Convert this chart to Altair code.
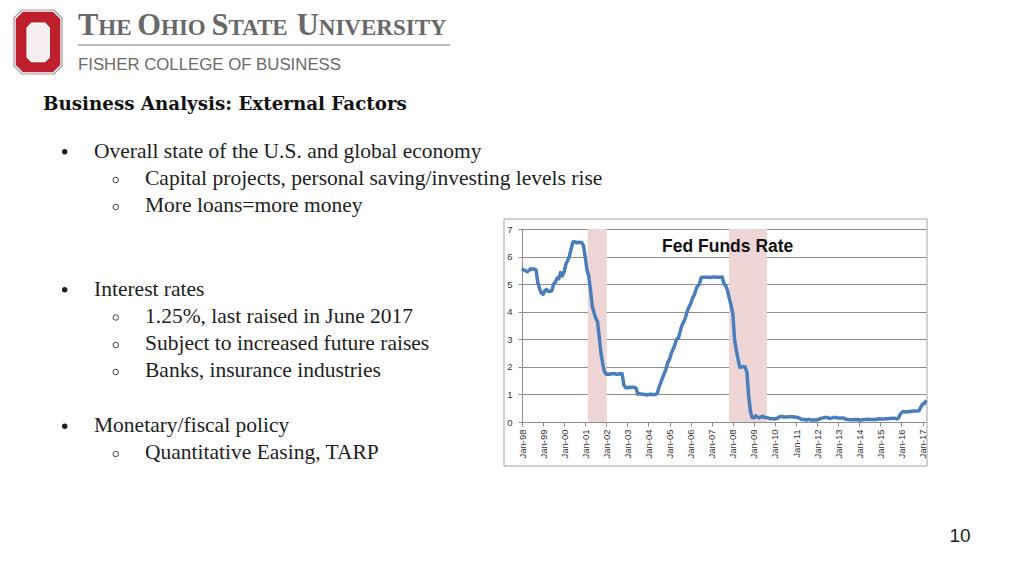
import altair as alt
import pandas as pd

# ---------------- data ----------------
start_month = "1998-01-01"
fed_funds = [
    5.56, 5.51, 5.49, 5.45, 5.49, 5.56, 5.54, 5.55, 5.51, 5.07, 4.83, 4.68,  # 1998
    4.63, 4.76, 4.81, 4.74, 4.74, 4.76, 4.99, 5.07, 5.22, 5.20, 5.42, 5.30,  # 1999
    5.45, 5.73, 5.85, 6.02, 6.27, 6.53, 6.54, 6.50, 6.52, 6.51, 6.51, 6.40,  # 2000
    5.98, 5.49, 5.31, 4.80, 4.21, 3.97, 3.77, 3.65, 3.07, 2.49, 2.09, 1.82,  # 2001
    1.73, 1.74, 1.73, 1.75, 1.75, 1.75, 1.73, 1.74, 1.75, 1.75, 1.34, 1.24,  # 2002
    1.24, 1.26, 1.25, 1.26, 1.26, 1.22, 1.01, 1.03, 1.01, 1.01, 1.00, 0.98,  # 2003
    1.00, 1.01, 1.00, 1.00, 1.00, 1.03, 1.26, 1.43, 1.61, 1.76, 1.93, 2.16,  # 2004
    2.28, 2.50, 2.63, 2.79, 3.00, 3.04, 3.26, 3.50, 3.62, 3.78, 4.00, 4.16,  # 2005
    4.29, 4.49, 4.59, 4.79, 4.94, 4.99, 5.24, 5.25, 5.25, 5.25, 5.25, 5.24,  # 2006
    5.25, 5.26, 5.26, 5.25, 5.25, 5.25, 5.26, 5.02, 4.94, 4.76, 4.49, 4.24,  # 2007
    3.94, 2.98, 2.61, 2.28, 1.98, 2.00, 2.01, 2.00, 1.81, 0.97, 0.39, 0.16,  # 2008
    0.15, 0.22, 0.18, 0.15, 0.18, 0.21, 0.16, 0.16, 0.15, 0.12, 0.12, 0.12,  # 2009
    0.11, 0.13, 0.16, 0.20, 0.20, 0.18, 0.18, 0.19, 0.19, 0.19, 0.19, 0.18,  # 2010
    0.17, 0.16, 0.14, 0.10, 0.09, 0.09, 0.07, 0.10, 0.08, 0.07, 0.08, 0.07,  # 2011
    0.08, 0.10, 0.13, 0.14, 0.16, 0.16, 0.16, 0.13, 0.14, 0.16, 0.16, 0.16,  # 2012
    0.14, 0.15, 0.14, 0.15, 0.11, 0.09, 0.09, 0.08, 0.08, 0.09, 0.08, 0.09,  # 2013
    0.07, 0.07, 0.08, 0.09, 0.09, 0.10, 0.09, 0.09, 0.09, 0.09, 0.09, 0.12,  # 2014
    0.11, 0.11, 0.11, 0.12, 0.12, 0.13, 0.13, 0.14, 0.14, 0.12, 0.12, 0.24,  # 2015
    0.34, 0.38, 0.36, 0.37, 0.37, 0.38, 0.39, 0.40, 0.40, 0.40, 0.41, 0.54,  # 2016
    0.65, 0.66, 0.79,                                                        # 2017
]
recession_start = ["2001-02-15T00:00:00", "2007-10-28T00:00:00"]
recession_end = ["2002-01-08T00:00:00", "2009-08-15T00:00:00"]
tick_years = list(range(1998, 2018))
y_ticks = [0, 1, 2, 3, 4, 5, 6, 7]

chart_title = "Fed Funds Rate"
slide_heading = "Business Analysis: External Factors"
bullet_texts = [
    "Overall state of the U.S. and global economy",
    "Capital projects, personal saving/investing levels rise",
    "More loans=more money",
    "Interest rates",
    "1.25%, last raised in June 2017",
    "Subject to increased future raises",
    "Banks, insurance industries",
    "Monetary/fiscal policy",
    "Quantitative Easing, TARP",
]
bullet_levels = [0, 1, 1, 0, 1, 1, 1, 0, 1]
logo_words = [("T", "HE"), ("O", "HIO"), ("S", "TATE"), ("U", "NIVERSITY")]
college_name = "FISHER COLLEGE OF BUSINESS"
page_number = "10"

# ---------------- layout (page pixels) ----------------
PX0, PY0 = 522, 229          # plot origin on the page
W, H = 404, 193              # plot area


def px(x):
    return x - PX0


def py(y):
    return y - PY0


bullet_baselines = [157.5, 185, 212, 295.5, 322.5, 350, 377, 432, 459]
logo_x = [(78, 98.3), (137.3, 161), (211.4, 228.4), (296.8, 318.8)]

one = pd.DataFrame({"k": [0]})

rates = pd.DataFrame({
    "date": pd.date_range(start_month, periods=len(fed_funds), freq="MS"),
    "rate": fed_funds,
})
rec = pd.DataFrame({"start": recession_start, "end": recession_end})

x_scale = alt.Scale(domain=[alt.DateTime(year=1998, month=1, date=1),
                            alt.DateTime(year=2017, month=3, date=1)])
x_axis = alt.Axis(
    title="", format="%b-%y", values=[alt.DateTime(year=y, month=1, date=1) for y in tick_years],
    labelAngle=270, labelFont="Liberation Sans", labelFontSize=9.5, labelColor="#333333",
    labelPadding=3, tickSize=4, tickColor="#8c8c8c", domainColor="#8c8c8c", grid=False,
    labelOverlap=False, labelBound=False, labelFlush=False,
)
y_axis = alt.Axis(
    title="", values=y_ticks, labelFont="Liberation Sans", labelFontSize=9.5, labelColor="#333333",
    labelPadding=6, tickSize=4, tickColor="#8c8c8c", domainColor="#8c8c8c",
    gridColor="#8c8c8c", gridWidth=1, grid=True,
)

layers = []

# chart frame
layers.append(alt.Chart(one).mark_rect(fill="transparent", stroke="#a3a3a3", strokeWidth=1).encode(
    x=alt.value(px(504)), x2=alt.value(px(927)), y=alt.value(py(219)), y2=alt.value(py(466))))

# recession shading
layers.append(alt.Chart(rec).mark_rect(color="#efd6d6").encode(
    x=alt.X("start:T", scale=x_scale, axis=x_axis),
    x2="end:T",
    y=alt.value(0), y2=alt.value(H)))

# fed funds line
layers.append(alt.Chart(rates).mark_line(color="#4A7EBB", strokeWidth=3.5, strokeJoin="round").encode(
    x=alt.X("date:T", scale=x_scale, axis=x_axis),
    y=alt.Y("rate:Q", scale=alt.Scale(domain=[0, 7], nice=False), axis=y_axis)))

# chart title
layers.append(alt.Chart(one).mark_text(
    text=chart_title, font="Liberation Sans", fontWeight="bold", fontSize=17.5, color="#111111",
    align="center", baseline="alphabetic").encode(x=alt.value(px(727.7)), y=alt.value(py(252.3))))

# ---------- slide decoration ----------
def octagon(hw, hh, c, s=32.0):
    pts = [(-hw + c, -hh), (hw - c, -hh), (hw, -hh + c), (hw, hh - c),
           (hw - c, hh), (-hw + c, hh), (-hw, hh - c), (-hw, -hh + c)]
    return "M " + " L ".join(f"{x / s:.4f} {y / s:.4f}" for x, y in pts) + " Z"


for shape, fill, stroke, sw, cx, cy in [
    (octagon(24, 32, 8), "#ffffff", "#9a9a9a", 1.2, 38, 42),
    (octagon(22.3, 30.3, 7.3), "#BD1F2D", "#BD1F2D", 0, 38, 42),
    (octagon(11, 19.2, 4.5), "#f6eeee", "#ffffff", 1.5, 38.2, 42.4),
]:
    layers.append(alt.Chart(one).mark_point(
        shape=shape, size=4096, filled=True, fill=fill, stroke=stroke, strokeWidth=sw, opacity=1).encode(
        x=alt.value(px(cx)), y=alt.value(py(cy))))

for (big, small), (xb, xs) in zip(logo_words, logo_x):
    layers.append(alt.Chart(one).mark_text(
        text=big, font="Liberation Serif", fontWeight="bold", fontSize=30.5, color="#686868",
        align="left", baseline="alphabetic").encode(x=alt.value(px(xb)), y=alt.value(py(35))))
    layers.append(alt.Chart(one).mark_text(
        text=small, font="Liberation Serif", fontWeight="bold", fontSize=23, color="#686868",
        align="left", baseline="alphabetic").encode(x=alt.value(px(xs)), y=alt.value(py(35))))

layers.append(alt.Chart(one).mark_rule(color="#a6a6a6", strokeWidth=1.5).encode(
    x=alt.value(px(78)), x2=alt.value(px(450)), y=alt.value(py(45))))

layers.append(alt.Chart(one).mark_text(
    text=college_name, font="Liberation Sans", fontSize=16.8, color="#6b6b6b",
    align="left", baseline="alphabetic").encode(x=alt.value(px(78)), y=alt.value(py(70))))

layers.append(alt.Chart(one).mark_text(
    text=slide_heading, font="DejaVu Serif", fontWeight="bold", fontSize=18.3, color="#111111",
    align="left", baseline="alphabetic").encode(x=alt.value(px(43)), y=alt.value(py(110))))

for txt, lvl, base in zip(bullet_texts, bullet_levels, bullet_baselines):
    tx = 94 if lvl == 0 else 145
    layers.append(alt.Chart(one).mark_text(
        text=txt, font="Liberation Serif", fontSize=21.5, color="#1e1e1e",
        align="left", baseline="alphabetic").encode(x=alt.value(px(tx)), y=alt.value(py(base))))
    if lvl == 0:
        layers.append(alt.Chart(one).mark_point(
            shape="circle", size=30, filled=True, color="#1e1e1e", opacity=1).encode(
            x=alt.value(px(64.7)), y=alt.value(py(base - 5.8))))
    else:
        layers.append(alt.Chart(one).mark_point(
            shape="circle", size=30, filled=False, color="#444444", strokeWidth=1, opacity=1).encode(
            x=alt.value(px(115.7)), y=alt.value(py(base - 5))))

layers.append(alt.Chart(one).mark_text(
    text=page_number, font="Liberation Sans", fontSize=19, color="#222222",
    align="center", baseline="alphabetic").encode(x=alt.value(px(960)), y=alt.value(py(541.5))))

chart = alt.layer(*layers).properties(
    width=W, height=H,
    autosize=alt.AutoSizeParams(type="none"),
    padding={"left": PX0 - 8, "top": PY0 - 8, "right": 1008 - (PX0 - 8) - W, "bottom": 560 - (PY0 - 8) - H},
    background="white",
).configure_view(stroke="transparent")

chart.save("out.html", embed_options={"renderer": "svg", "actions": False})
